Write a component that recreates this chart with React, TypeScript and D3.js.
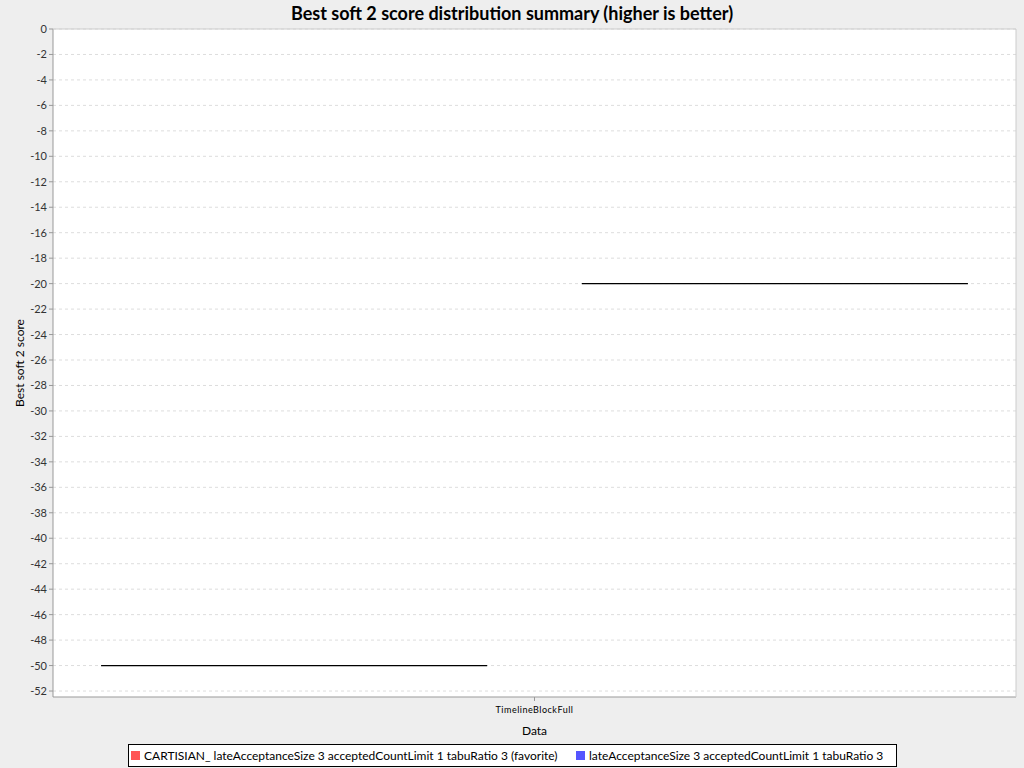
import * as d3 from 'd3';

const seriesNames = [
  'CARTISIAN_ lateAcceptanceSize 3 acceptedCountLimit 1 tabuRatio 3 (favorite)',
  'lateAcceptanceSize 3 acceptedCountLimit 1 tabuRatio 3',
];
const seriesColors = ['#ff5555', '#5555ff'];
const category = 'TimelineBlockFull';
// min = q1 = median = q3 = max for each series
const seriesValues = [-50, -20];
const yTicks = d3.range(0, -53, -2);

export default function App() {
  const W = 1024, H = 768;
  const left = 53, right = 1016, top = 29, bottom = 697;
  const y = d3.scaleLinear().domain([-52.47, 0]).range([bottom, top]);
  const x = d3.scaleBand<string>().domain(seriesNames).range([left, right]).paddingInner(0.197).paddingOuter(0.1);
  const font = 'Lato, "DejaVu Sans", sans-serif';

  return (
    <svg width={W} height={H} style={{ position: 'absolute', left: 0, top: 0 }} fontFamily={font}>
      <rect width={W} height={H} fill="#eeeeee" />
      <text x={512} y={20} textAnchor="middle" fontSize={18} fontWeight="bold">
        Best soft 2 score distribution summary (higher is better)
      </text>
      <rect x={left} y={top} width={right - left} height={bottom - top} fill="#fff" />
      {yTicks.map((t) => (
        <g key={t}>
          <line x1={left} x2={right} y1={y(t)} y2={y(t)} stroke="#dddddd" strokeDasharray="3,3" />
          <line x1={left - 4} x2={left} y1={y(t)} y2={y(t)} stroke="#999" />
          <text x={left - 6} y={y(t) + 4} textAnchor="end" fontSize={11} fill="#333">{t}</text>
        </g>
      ))}
      <line x1={left} x2={left} y1={top} y2={bottom} stroke="#999" />
      <line x1={left} x2={right} y1={bottom} y2={bottom} stroke="#999" />
      <line x1={right} x2={right} y1={top} y2={bottom} stroke="#ccc" />
      <line x1={left} x2={right} y1={top} y2={top} stroke="#ccc" />
      <line x1={534.5} x2={534.5} y1={bottom} y2={bottom + 4} stroke="#999" />
      {seriesNames.map((s, i) => (
        <line key={s} x1={x(s)!} x2={x(s)! + x.bandwidth()} y1={y(seriesValues[i])} y2={y(seriesValues[i])}
          stroke="#000" strokeWidth={1.2} />
      ))}
      <text x={534.5} y={713} textAnchor="middle" fontSize={9} letterSpacing={0.5}>{category}</text>
      <text x={534.5} y={735} textAnchor="middle" fontSize={12}>Data</text>
      <text transform="translate(24,363) rotate(-90)" textAnchor="middle" fontSize={12}>Best soft 2 score</text>
      <rect x={128.5} y={744.5} width={768} height={22} fill="#fff" stroke="#000" />
      <rect x={131} y={751} width={9} height={9} fill={seriesColors[0]} />
      <text x={144} y={760} fontSize={12}>{seriesNames[0]}</text>
      <rect x={576} y={751} width={9} height={9} fill={seriesColors[1]} />
      <text x={589} y={760} fontSize={12}>{seriesNames[1]}</text>
    </svg>
  );
}
